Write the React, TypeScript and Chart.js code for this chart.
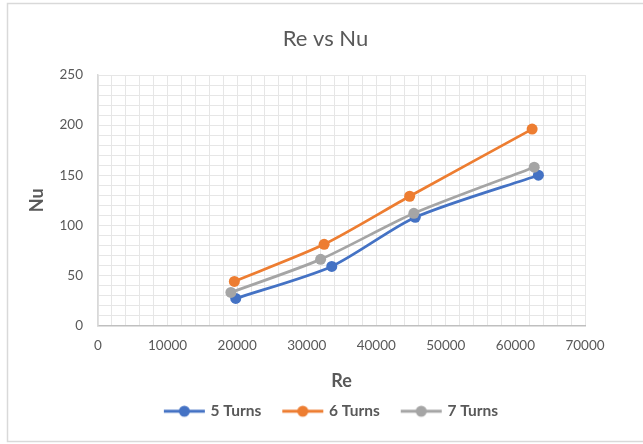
import React, { useEffect, useRef } from "react";
import { Chart, registerables } from "chart.js";

Chart.register(...registerables);

const seriesNames = ["5 Turns", "6 Turns", "7 Turns"];
const seriesColors = ["#4472C4", "#ED7D31", "#A5A5A5"];
const reFiveTurns = [19800, 33600, 45600, 63300];
const nuFiveTurns = [27, 59, 108, 150];
const reSixTurns = [19600, 32500, 44800, 62400];
const nuSixTurns = [44, 81, 129, 196];
const reSevenTurns = [19100, 32000, 45400, 62700];
const nuSevenTurns = [33, 66, 112, 158];
const xMajorTicks = [0, 10000, 20000, 30000, 40000, 50000, 60000, 70000];
const yMajorTicks = [0, 50, 100, 150, 200, 250];

const FONT = "Lato, 'Open Sans', sans-serif";
const TEXT = "#595959";

function legendImage(color: string): HTMLCanvasElement {
  const c = document.createElement("canvas");
  c.width = 56;
  c.height = 14;
  const ctx = c.getContext("2d")!;
  ctx.strokeStyle = color;
  ctx.lineWidth = 3;
  ctx.beginPath();
  ctx.moveTo(14, 7);
  ctx.lineTo(55, 7);
  ctx.stroke();
  ctx.fillStyle = color;
  ctx.beginPath();
  ctx.arc(34.5, 7, 5.5, 0, Math.PI * 2);
  ctx.fill();
  return c;
}

export default function App() {
  const ref = useRef<HTMLCanvasElement>(null);
  useEffect(() => {
    document.body.style.margin = "0";
    const xs = [reFiveTurns, reSixTurns, reSevenTurns];
    const ys = [nuFiveTurns, nuSixTurns, nuSevenTurns];
    const orders = [3, 2, 1];
    const datasets = seriesNames.map((name, i) => ({
      label: name,
      data: xs[i].map((x, j) => ({ x, y: ys[i][j] })),
      borderColor: seriesColors[i],
      backgroundColor: seriesColors[i],
      borderWidth: 2.75,
      pointRadius: 5.5,
      pointBorderWidth: 0,
      tension: 0.25,
      order: orders[i],
    }));
    const images = seriesColors.map(legendImage);
    const border = {
      id: "outerBorder",
      beforeDraw(chart: any) {
        const ctx = chart.ctx;
        ctx.save();
        ctx.fillStyle = "#ffffff";
        ctx.fillRect(0, 0, chart.width, chart.height);
        ctx.strokeStyle = "#D9D9D9";
        ctx.lineWidth = 1.5;
        ctx.strokeRect(7.5, 3.5, 700, 438);
        ctx.restore();
      },
    };
    const chart = new Chart(ref.current!, {
      type: "line",
      data: { datasets },
      plugins: [border],
      options: {
        animation: false,
        responsive: false,
        layout: { padding: { left: 14, right: 6, top: 0, bottom: 15 } },
        plugins: {
          title: {
            display: true,
            text: "Re vs Nu",
            color: TEXT,
            font: { family: FONT, size: 22, weight: "normal" },
            padding: { top: 26, bottom: 22.6 },
          },
          legend: {
            position: "bottom",
            labels: {
              usePointStyle: true,
              pointStyleWidth: 50,
              boxHeight: 14,
              padding: 10,
              color: TEXT,
              font: { family: FONT, size: 15.5, weight: "bold" },
              sort: (a: any, b: any) => a.datasetIndex - b.datasetIndex,
              generateLabels: (chart: any) =>
                chart.data.datasets.map((d: any, i: number) => ({
                  text: d.label,
                  fillStyle: seriesColors[i],
                  strokeStyle: seriesColors[i],
                  pointStyle: images[i],
                  lineWidth: 0,
                  hidden: false,
                  datasetIndex: i,
                  fontColor: TEXT,
                })),
            },
          },
          tooltip: { enabled: false },
        },
        scales: {
          x: {
            type: "linear",
            min: 0,
            max: 70000,
            afterFit: (s: any) => {
              s.height = 68;
            },
            afterBuildTicks: (s: any) => {
              const t = [];
              for (let v = 0; v <= 70000; v += 2000) t.push({ value: v });
              s.ticks = t;
            },
            ticks: {
              autoSkip: false,
              maxRotation: 0,
              padding: 12,
              color: TEXT,
              font: { family: FONT, size: 13.5 },
              callback: (v: any) => (xMajorTicks.includes(v) ? String(v) : ""),
            },
            grid: { color: "#E6E6E6", lineWidth: 1, drawTicks: false },
            border: { display: true, color: "#BFBFBF", width: 1.5 },
            title: {
              display: true,
              text: "Re",
              color: TEXT,
              font: { family: FONT, size: 18, weight: "bold" },
              padding: { top: 0, bottom: 2 },
            },
          },
          y: {
            type: "linear",
            min: 0,
            max: 250,
            afterFit: (s: any) => {
              s.width = 84;
            },
            afterBuildTicks: (s: any) => {
              const t = [];
              for (let v = 0; v <= 250; v += 10) t.push({ value: v });
              s.ticks = t;
            },
            ticks: {
              autoSkip: false,
              padding: 15,
              color: TEXT,
              font: { family: FONT, size: 13.5 },
              callback: (v: any) => (yMajorTicks.includes(v) ? String(v) : ""),
            },
            grid: { color: "#E6E6E6", lineWidth: 1, drawTicks: false },
            border: { display: true, color: "#D9D9D9", width: 1.5 },
            title: {
              display: true,
              text: "Nu",
              color: TEXT,
              font: { family: FONT, size: 18, weight: "bold" },
              padding: { top: 12, bottom: 0 },
            },
          },
          yRight: {
            type: "linear",
            position: "right",
            display: true,
            afterFit: (s: any) => {
              s.width = 52;
            },
            ticks: { display: false },
            grid: { display: false, drawTicks: false },
            border: { display: false },
          },
        },
      } as any,
    });
    return () => chart.destroy();
  }, []);
  return (
    <div style={{ width: 643, height: 444 }}>
      <canvas ref={ref} width={643} height={444} />
    </div>
  );
}
